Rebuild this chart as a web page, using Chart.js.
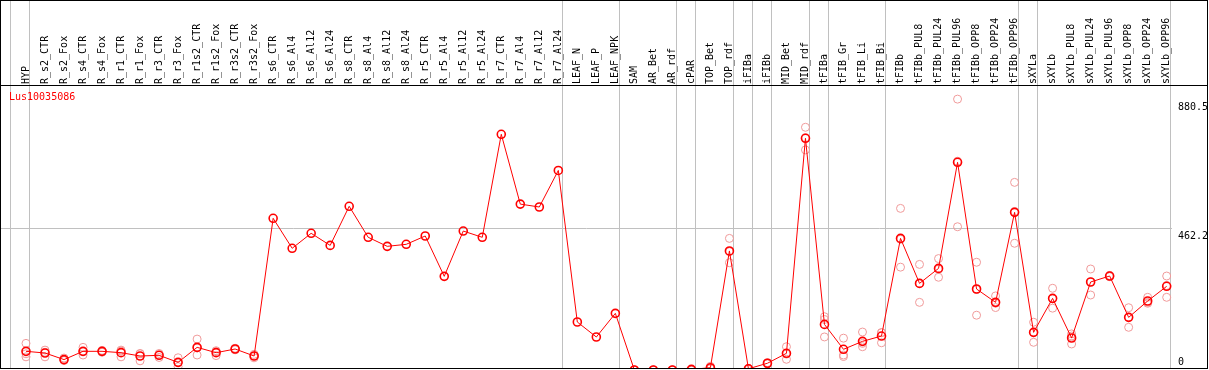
<!DOCTYPE html>
<html><head><meta charset="utf-8">
<script src="https://cdn.jsdelivr.net/npm/chart.js@4"></script>
<style>
html,body{margin:0;padding:0;background:#fff;}
#frame{position:absolute;left:0;top:0;width:1206px;height:367px;border:1px solid #000;background:#fff;}
#sep{position:absolute;left:0;top:84px;width:1206px;height:1px;background:#000;}
#title{position:absolute;left:8px;top:90px;font-family:"DejaVu Sans Mono",monospace;font-size:10px;line-height:12px;color:#f00;white-space:nowrap;}
canvas{position:absolute;left:0;top:0;}
</style></head>
<body>
<div id="frame"><canvas id="c" width="1206" height="367"></canvas><div id="sep"></div><div id="title">Lus10035086</div></div>
<script>
const seriesName = 'Lus10035086';
const categories = ['HYP','R_s2_CTR','R_s2_Fox','R_s4_CTR','R_s4_Fox','R_r1_CTR','R_r1_Fox','R_r3_CTR','R_r3_Fox','R_r1s2_CTR','R_r1s2_Fox','R_r3s2_CTR','R_r3s2_Fox','R_s6_CTR','R_s6_Al4','R_s6_Al12','R_s6_Al24','R_s8_CTR','R_s8_Al4','R_s8_Al12','R_s8_Al24','R_r5_CTR','R_r5_Al4','R_r5_Al12','R_r5_Al24','R_r7_CTR','R_r7_Al4','R_r7_Al12','R_r7_Al24','LEAF_N','LEAF_P','LEAF_NPK','SAM','AR_Bet','AR_rdf','cPAR','TOP_Bet','TOP_rdf','iFIBa','iFIBb','MID_Bet','MID_rdf','tFIBa','tFIB_Gr','tFIB_Li','tFIB_Bi','tFIBb','tFIBb_PUL8','tFIBb_PUL24','tFIBb_PUL96','tFIBb_OPP8','tFIBb_OPP24','tFIBb_OPP96','sXYLa','sXYLb','sXYLb_PUL8','sXYLb_PUL24','sXYLb_PUL96','sXYLb_OPP8','sXYLb_OPP24','sXYLb_OPP96'];
const groupSizes = [1,28,3,3,1,2,1,1,2,1,3,7,1,7];
const meanValues = [61,55.5,34,61,61,56.6,45.7,48,25,74,56.6,68.6,45.7,495.6,397.6,446.6,407,534.8,433.5,404,410.6,437.8,306,454,433.5,770,542,532.5,652,156.8,107.8,185,0,0,0,2,7.5,389,4,22,54.5,757,149,67.6,93.6,111,430,283,332,678.5,264.6,221,515,123,234,104.5,287.5,307,172,225.4,273.4];
const repHigh = [87,65,39,74,64,65,54,54,40,101,63,71,51,null,null,null,null,null,null,null,null,null,null,null,null,null,null,null,null,null,null,null,0,0,0,0,12,430,5,24,76,793,174,104,124,122,528,345,364,885,352,242,613,156,267,118,330,309,203.5,237.5,307];
const repLow = [43,43,32,49,58,43,30,41,11,49,47,66,40,null,null,null,null,null,null,null,null,null,null,null,null,null,null,null,null,null,null,null,0,0,0,0,4,350.5,2,20,35,719,108,49,76,89,336,221,303,468,179,204,414,90.5,202,85,245,305,139.5,218,237.5];
const repMid = [53,58,31,60,61,62,53,49,24,72,60,69,46,null,null,null,null,null,null,null,null,null,null,null,null,null,null,null,null,null,null,null,0,0,0,0,6,386.5,5,22,52,759,165,44,87,122,427,283,329,682,263,218,518,122.5,233,111,288,306,173,221,276];
const yTickValues = [0, 462.2, 880.5];
const yTickLabels = ['0', '462.2', '880.5'];

const sepPositions = [-0.8];
let acc = 0;
groupSizes.forEach(n => { acc += n; sepPositions.push(acc - 0.8); });

const toPts = arr => arr.map((v, i) => ({x: i, y: v}));

Chart.defaults.font.family = '"DejaVu Sans Mono", monospace';
Chart.defaults.font.size = 10;
Chart.defaults.color = '#000';

const X_MIN = -1.315, X_MAX = 60.28;

const repStyle = arr => ({
  data: toPts(arr), showLine: false, pointRadius: 4, pointBorderWidth: 1,
  pointBorderColor: '#f09a9a', pointBackgroundColor: 'rgba(0,0,0,0)',
  borderColor: '#f09a9a', order: 1, xAxisID: 'x', yAxisID: 'y'
});

new Chart(document.getElementById('c'), {
  type: 'line',
  data: {
    datasets: [
      {label: seriesName, data: toPts(meanValues), xAxisID: 'x', yAxisID: 'y',
       borderColor: '#ff0000', borderWidth: 1, pointRadius: 4, pointBorderWidth: 1.6,
       pointBorderColor: '#ff0000', pointBackgroundColor: 'rgba(0,0,0,0)', tension: 0, order: 0},
      repStyle(repHigh), repStyle(repLow), repStyle(repMid)
    ]
  },
  options: {
    responsive: false, animation: false, events: [],
    layout: {padding: 0, autoPadding: false},
    plugins: {legend: {display: false}, tooltip: {enabled: false}},
    scales: {
      x: {
        type: 'linear', position: 'top', min: X_MIN, max: X_MAX, weight: 1,
        afterBuildTicks: s => { s.ticks = categories.map((c, i) => ({value: i})); },
        afterFit: s => { s.height = 84; s.paddingLeft = 0; s.paddingRight = 0; },
        grid: {display: false, drawTicks: false}, border: {display: false},
        ticks: {autoSkip: false, minRotation: 90, maxRotation: 90, padding: 1, labelOffset: 12, color: '#000',
                font: {size: 10}, callback: v => categories[v] ?? ''}
      },
      xg: {
        type: 'linear', position: 'top', min: X_MIN, max: X_MAX, weight: 0,
        afterBuildTicks: s => { s.ticks = sepPositions.map(v => ({value: v})); },
        afterFit: s => { s.height = 0; s.paddingLeft = 0; s.paddingRight = 0; },
        grid: {color: '#c0c0c0', lineWidth: 1, tickLength: 84, drawTicks: true, drawOnChartArea: true},
        border: {display: false},
        ticks: {display: false}
      },
      y: {
        type: 'linear', position: 'right', min: 6.53, max: 931.1,
        afterBuildTicks: s => { s.ticks = yTickValues.map(v => ({value: v})); },
        afterFit: s => { s.width = 35; s.paddingTop = 0; s.paddingBottom = 0; },
        afterUpdate: s => {
          if (s._lblWrapped) return;
          s._lblWrapped = true;
          const orig = s._computeLabelItems;
          s._computeLabelItems = function (ca) {
            const items = orig.call(this, ca);
            items.forEach((it, i) => {
              const tk = this.ticks[i];
              const py = this.getPixelForValue(tk.value);
              it.options.textBaseline = 'alphabetic';
              it.options.translation = [it.options.translation[0], tk.value === yTickValues[0] ? py - 5 : py + 10];
            });
            return items;
          };
        },
        grid: {color: c => (c.tick && c.tick.value === yTickValues[1]) ? '#c0c0c0' : 'rgba(0,0,0,0)', drawTicks: false},
        border: {display: false},
        ticks: {padding: 6, color: '#000', font: {size: 10}, callback: (v, i) => yTickLabels[i]}
      }
    }
  }
});
</script>
</body></html>
